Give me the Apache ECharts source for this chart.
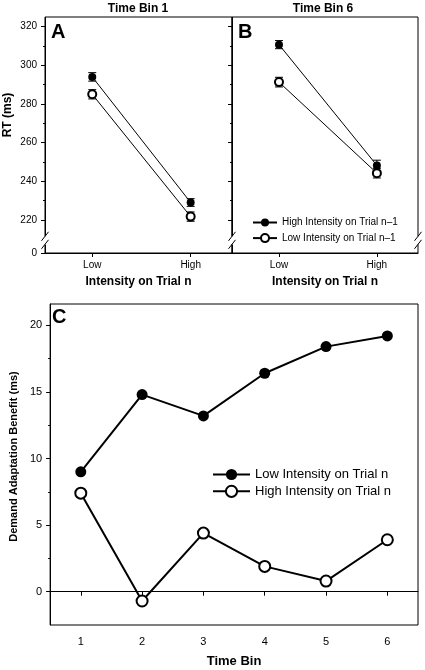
<!DOCTYPE html>
<html><head><meta charset="utf-8">
<script src="https://cdn.jsdelivr.net/npm/echarts@6/dist/echarts.min.js"></script>
<style>html,body{margin:0;padding:0;background:#fff}#c{width:425px;height:670px}</style>
</head><body><div id="c"></div>
<script>
// ---------- data ----------
const intensityCats = ['Low', 'High'];
const intensityPos = [1, 2];
const bin1HighPrev = [294, 229];
const bin1HighPrevErr = [2.2, 2.0];
const bin1LowPrev = [285, 221.7];
const bin1LowPrevErr = [2.4, 2.4];
const bin6HighPrev = [310.7, 248.2];
const bin6HighPrevErr = [2.1, 2.7];
const bin6LowPrev = [291.3, 244.2];
const bin6LowPrevErr = [2.5, 2.5];
const rtTicks = [0, 220, 240, 260, 280, 300, 320];
const rtMinorTicks = [230, 250, 270, 290, 310];
const timeBins = ['1', '2', '3', '4', '5', '6'];
const benefitLowN = [9.0, 14.8, 13.2, 16.4, 18.4, 19.2];
const benefitHighN = [7.4, -0.7, 4.4, 1.9, 0.8, 3.9];
const benefitTicks = [0, 5, 10, 15, 20];
const benefitMinorTicks = [2.5, 7.5, 12.5, 17.5];
const BREAK_START = 4, BREAK_END = 212;

const HIGH_PREV = 'High Intensity on Trial n\u20131';
const LOW_PREV = 'Low Intensity on Trial n\u20131';
const LOW_N = 'Low Intensity on Trial n';
const HIGH_N = 'High Intensity on Trial n';

// ---------- helpers ----------
const FONT = 'Liberation Sans, Arial, Helvetica, sans-serif';
const BLACK = '#000';

function pts(vals) { return intensityPos.map((x, i) => [x, vals[i]]); }
function errPts(vals, errs) { return intensityPos.map((x, i) => [x, vals[i] - errs[i], vals[i] + errs[i]]); }

function errRender(params, api) {
  const x = api.value(0);
  const p1 = api.coord([x, api.value(1)]);
  const p2 = api.coord([x, api.value(2)]);
  const w = 4;
  const st = { stroke: BLACK, lineWidth: 1 };
  return { type: 'group', children: [
    { type: 'line', shape: { x1: p1[0], y1: p1[1], x2: p2[0], y2: p2[1] }, style: st },
    { type: 'line', shape: { x1: p1[0] - w, y1: p1[1], x2: p1[0] + w, y2: p1[1] }, style: st },
    { type: 'line', shape: { x1: p2[0] - w, y1: p2[1], x2: p2[0] + w, y2: p2[1] }, style: st }
  ] };
}

function makeBreakRender(sides) {
  return function (params, api) {
    const cs = params.coordSys;
    const yS = api.coord([api.value(0), api.value(1)])[1];
    const yE = api.coord([api.value(0), api.value(2)])[1];
    const yc = (yS + yE) / 2;
    const children = [];
    sides.forEach(side => {
      const X = side === 'left' ? cs.x : cs.x + cs.width;
      children.push({ type: 'rect', shape: { x: X - 2, y: yc - 4, width: 4, height: 8 }, style: { fill: '#fff' } });
      [-4, 4].forEach(dy => {
        children.push({ type: 'line', shape: { x1: X - 3.5, y1: yc + dy + 4.5, x2: X + 3.5, y2: yc + dy - 4.5 }, style: { stroke: BLACK, lineWidth: 1 } });
      });
    });
    return { type: 'group', children };
  };
}

function topXAxis(gridIndex) {
  return {
    type: 'value', gridIndex, min: 0.52, max: 2.42,
    axisLine: { show: true, lineStyle: { color: BLACK, width: 1 } },
    axisTick: { show: true, length: 4, customValues: intensityPos, lineStyle: { color: BLACK } },
    axisLabel: { customValues: intensityPos, formatter: v => intensityCats[intensityPos.indexOf(v)] || '', fontSize: 10, color: BLACK, fontFamily: FONT, margin: 7 },
    splitLine: { show: false },
    name: 'Intensity on Trial n', nameLocation: 'middle', nameGap: 23,
    nameTextStyle: { fontSize: 12, fontWeight: 'bold', color: BLACK, fontFamily: FONT }
  };
}

function topYAxis(gridIndex, major, withLabels) {
  const ax = {
    type: 'value', gridIndex, min: 0, max: 325, position: 'left', offset: 0,
    breaks: [{ start: BREAK_START, end: BREAK_END, gap: '4.2%' }],
    breakArea: { show: false },
    axisLine: { show: major, lineStyle: { color: BLACK, width: 1 } },
    axisTick: { show: true, length: major ? 4 : 2, customValues: major ? rtTicks : rtMinorTicks, lineStyle: { color: BLACK } },
    axisLabel: { show: major && withLabels, customValues: rtTicks, fontSize: 10, color: BLACK, fontFamily: FONT, margin: 8 },
    splitLine: { show: false }
  };
  if (major && withLabels) {
    ax.name = 'RT (ms)';
    ax.nameLocation = 'middle';
    ax.nameGap = 31;
    ax.nameTextStyle = { fontSize: 12, fontWeight: 'bold', color: BLACK, fontFamily: FONT, padding: [0, 0, 0, 40] };
  }
  return ax;
}

const option = {
  animation: false,
  backgroundColor: '#fff',
  textStyle: { fontFamily: FONT },
  title: [
    { text: 'Time Bin 1', left: 138, top: 3, textAlign: 'center', padding: 0, textStyle: { fontSize: 12, fontWeight: 'bold', color: BLACK, fontFamily: FONT } },
    { text: 'Time Bin 6', left: 323, top: 3, textAlign: 'center', padding: 0, textStyle: { fontSize: 12, fontWeight: 'bold', color: BLACK, fontFamily: FONT } },
    { text: 'A', left: 51, top: 22, padding: 0, textStyle: { fontSize: 20, fontWeight: 'bold', color: BLACK, fontFamily: FONT } },
    { text: 'B', left: 238, top: 22, padding: 0, textStyle: { fontSize: 20, fontWeight: 'bold', color: BLACK, fontFamily: FONT } },
    { text: 'C', left: 52, top: 307, padding: 0, textStyle: { fontSize: 20, fontWeight: 'bold', color: BLACK, fontFamily: FONT } }
  ],
  legend: [
    {
      data: [HIGH_PREV, LOW_PREV], orient: 'vertical', left: 252, top: 217.5, padding: 0,
      itemWidth: 24, itemHeight: 10, itemGap: 5.6, selectedMode: false,
      textStyle: { fontSize: 10, color: BLACK, fontFamily: FONT }
    },
    {
      data: [LOW_N, HIGH_N], orient: 'vertical', left: 212, top: 468, padding: 0,
      itemWidth: 37, itemHeight: 14, itemGap: 3.7, selectedMode: false,
      textStyle: { fontSize: 13, color: BLACK, fontFamily: FONT }
    }
  ],
  grid: [
    { left: 45, top: 17, width: 187, height: 236, show: true, borderColor: BLACK, borderWidth: 1, backgroundColor: 'transparent', containLabel: false },
    { left: 232, top: 17, width: 186, height: 236, show: true, borderColor: BLACK, borderWidth: 1, backgroundColor: 'transparent', containLabel: false },
    { left: 45, top: 304, width: 373, height: 321, show: true, borderColor: BLACK, borderWidth: 1, backgroundColor: 'transparent', containLabel: false }
  ],
  xAxis: [
    topXAxis(0),
    topXAxis(1),
    {
      type: 'category', gridIndex: 2, data: timeBins, boundaryGap: true,
      axisLine: { show: true, lineStyle: { color: BLACK, width: 1 } },
      axisTick: { show: true, alignWithLabel: true, length: 4, lineStyle: { color: BLACK } },
      axisLabel: { fontSize: 11, color: BLACK, fontFamily: FONT, margin: 11 },
      splitLine: { show: false },
      name: 'Time Bin', nameLocation: 'middle', nameGap: 30,
      nameTextStyle: { fontSize: 13, fontWeight: 'bold', color: BLACK, fontFamily: FONT }
    }
  ],
  yAxis: [
    topYAxis(0, true, true),
    topYAxis(0, false, false),
    topYAxis(1, true, false),
    topYAxis(1, false, false),
    {
      type: 'value', gridIndex: 2, min: -2.5, max: 21.6, position: 'left', offset: 0,
      axisLine: { show: true, lineStyle: { color: BLACK, width: 1 } },
      axisTick: { show: true, length: 4, customValues: benefitTicks, lineStyle: { color: BLACK } },
      axisLabel: { customValues: benefitTicks, fontSize: 11, color: BLACK, fontFamily: FONT, margin: 8 },
      splitLine: { show: false },
      name: 'Demand Adaptation Benefit (ms)', nameLocation: 'middle', nameGap: 28,
      nameTextStyle: { fontSize: 11, fontWeight: 'bold', color: BLACK, fontFamily: FONT, padding: [0, 0, 0, 16] }
    },
    {
      type: 'value', gridIndex: 2, min: -2.5, max: 21.6, position: 'left', offset: 0,
      axisLine: { show: false },
      axisTick: { show: true, length: 2, customValues: benefitMinorTicks, lineStyle: { color: BLACK } },
      axisLabel: { show: false },
      splitLine: { show: false }
    }
  ],
  series: [
    // Panel A error bars
    { type: 'custom', name: 'errA1', xAxisIndex: 0, yAxisIndex: 0, renderItem: errRender, data: errPts(bin1HighPrev, bin1HighPrevErr), encode: { x: 0, y: [1, 2] }, z: 1, clip: false },
    { type: 'custom', name: 'errA2', xAxisIndex: 0, yAxisIndex: 0, renderItem: errRender, data: errPts(bin1LowPrev, bin1LowPrevErr), encode: { x: 0, y: [1, 2] }, z: 1, clip: false },
    { type: 'line', name: HIGH_PREV, xAxisIndex: 0, yAxisIndex: 0, data: pts(bin1HighPrev), symbol: 'circle', symbolSize: 8, color: BLACK, itemStyle: { color: BLACK }, lineStyle: { color: BLACK, width: 1 }, z: 3 },
    { type: 'line', name: LOW_PREV, xAxisIndex: 0, yAxisIndex: 0, data: pts(bin1LowPrev), symbol: 'emptyCircle', symbolSize: 8, color: BLACK, itemStyle: { color: BLACK, borderWidth: 1 }, lineStyle: { color: BLACK, width: 1 }, z: 3 },
    // Panel B error bars
    { type: 'custom', name: 'errB1', xAxisIndex: 1, yAxisIndex: 2, renderItem: errRender, data: errPts(bin6HighPrev, bin6HighPrevErr), encode: { x: 0, y: [1, 2] }, z: 1, clip: false },
    { type: 'custom', name: 'errB2', xAxisIndex: 1, yAxisIndex: 2, renderItem: errRender, data: errPts(bin6LowPrev, bin6LowPrevErr), encode: { x: 0, y: [1, 2] }, z: 1, clip: false },
    { type: 'line', name: HIGH_PREV, xAxisIndex: 1, yAxisIndex: 2, data: pts(bin6HighPrev), symbol: 'circle', symbolSize: 8, color: BLACK, itemStyle: { color: BLACK }, lineStyle: { color: BLACK, width: 1 }, z: 3 },
    { type: 'line', name: LOW_PREV, xAxisIndex: 1, yAxisIndex: 2, data: pts(bin6LowPrev), symbol: 'emptyCircle', symbolSize: 8, color: BLACK, itemStyle: { color: BLACK, borderWidth: 1 }, lineStyle: { color: BLACK, width: 1 }, z: 3 },
    // axis break marks
    { type: 'custom', name: 'breakA', xAxisIndex: 0, yAxisIndex: 0, renderItem: makeBreakRender(['left', 'right']), data: [[1, BREAK_START, BREAK_END]], encode: { x: 0, y: [1, 2] }, z: 10, clip: false, silent: true },
    { type: 'custom', name: 'breakB', xAxisIndex: 1, yAxisIndex: 2, renderItem: makeBreakRender(['right']), data: [[1, BREAK_START, BREAK_END]], encode: { x: 0, y: [1, 2] }, z: 10, clip: false, silent: true },
    // Panel C
    { type: 'line', name: LOW_N, xAxisIndex: 2, yAxisIndex: 4, data: benefitLowN, symbol: 'circle', symbolSize: 11, color: BLACK, itemStyle: { color: BLACK }, lineStyle: { color: BLACK, width: 2 }, z: 3 },
    { type: 'line', name: HIGH_N, xAxisIndex: 2, yAxisIndex: 4, data: benefitHighN, symbol: 'emptyCircle', symbolSize: 11, color: BLACK, itemStyle: { color: BLACK, borderWidth: 1.5 }, lineStyle: { color: BLACK, width: 2 }, z: 3 }
  ]
};

const chart = echarts.init(document.getElementById('c'), null, { renderer: 'canvas' });
chart.setOption(option);
</script>
</body></html>
